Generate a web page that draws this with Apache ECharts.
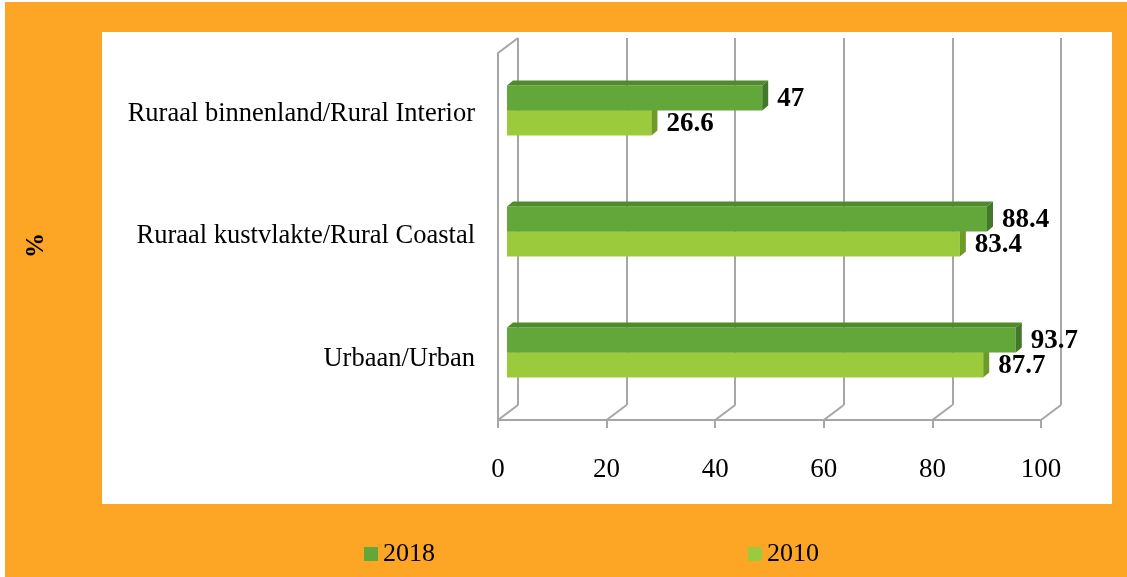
<!DOCTYPE html>
<html lang="en">

<head>
    <meta charset="UTF-8">
    <title>Rural vs urban</title>
    <script src="https://cdn.jsdelivr.net/npm/echarts/dist/echarts.min.js"></script>
    <style>
        body { margin: 0; background: #fff; }
        .frame {
            position: absolute; left: 5px; top: 2px; right: 0; bottom: 0;
            background: #FDA524;
        }
        .plot {
            position: absolute; left: 102px; top: 32px; width: 1010px; height: 472px;
            background: #fff;
        }
        #chart { position: absolute; left: 0; top: 0; width: 1127px; height: 577px; }
    </style>
</head>

<body>
    <div class="frame"></div>
    <div class="plot"></div>
    <div id="chart"></div>

    <script>
        // data (bottom to top)
        const categories = ['Urbaan/Urban', 'Ruraal kustvlakte/Rural Coastal', 'Ruraal binnenland/Rural Interior'];
        const values2018 = [93.7, 88.4, 47];
        const values2010 = [87.7, 83.4, 26.6];
        const xMin = 0, xMax = 100, xStep = 20;
        const xTicks = [0, 20, 40, 60, 80, 100];

        const FONT = '"Liberation Serif", "Times New Roman", serif';
        const GRID_COLOR = '#A6A6A6';
        // 3d depth of the walls and of the bars
        const DX = 20, DY = -15;
        const BAR_H = 25, BX = 6, BY = -5;

        function barItem(shift, colors) {
            return function (params, api) {
                const val = api.value(0);
                const cat = api.value(1);
                const a = api.coord([xMin, cat]);
                const b = api.coord([val, cat]);
                const x0 = a[0], x1 = b[0];
                const y0 = a[1] + shift, y1 = y0 + BAR_H;
                return {
                    type: 'group',
                    children: [
                        { type: 'rect', shape: { x: x0, y: y0, width: x1 - x0, height: BAR_H }, style: { fill: colors[0] } },
                        { type: 'polygon', shape: { points: [[x0, y0], [x0 + BX, y0 + BY], [x1 + BX, y0 + BY], [x1, y0]] }, style: { fill: colors[1] } },
                        { type: 'polygon', shape: { points: [[x1, y0], [x1 + BX, y0 + BY], [x1 + BX, y1 + BY], [x1, y1]] }, style: { fill: colors[2] } },
                        {
                            type: 'text', x: x1 + BX + 9, y: (y0 + y1) / 2 + 1,
                            style: { text: String(val), font: 'bold 27px ' + FONT, fill: '#000', verticalAlign: 'middle' }
                        }
                    ]
                };
            };
        }

        const chart = echarts.init(document.getElementById('chart'));
        chart.setOption({
            backgroundColor: 'transparent',
            animation: false,
            legend: {
                data: ['2018', '2010'],
                left: 359, top: 536,
                itemWidth: 14, itemHeight: 14, itemGap: 313,
                icon: 'rect',
                textStyle: { fontFamily: FONT, fontSize: 26, color: '#000' }
            },
            grid: [
                { left: 498, top: 53, width: 543, height: 367 },  // front plane
                { left: 507, top: 50, width: 543, height: 363 },  // bars
                { left: 518, top: 38, width: 543, height: 367 }   // back wall
            ],
            xAxis: [
                {
                    gridIndex: 0, type: 'value', min: xMin, max: xMax, interval: xStep,
                    axisLine: { show: true, lineStyle: { color: GRID_COLOR, width: 2 } },
                    axisTick: { show: true, length: 8, lineStyle: { color: GRID_COLOR, width: 2 } },
                    axisLabel: { fontFamily: FONT, fontSize: 27, color: '#000', margin: 36 },
                    splitLine: { show: false }
                },
                { gridIndex: 1, type: 'value', min: xMin, max: xMax, interval: xStep, show: false },
                {
                    gridIndex: 2, type: 'value', min: xMin, max: xMax, interval: xStep,
                    axisLine: { show: false }, axisTick: { show: false }, axisLabel: { show: false },
                    splitLine: { show: true, lineStyle: { color: GRID_COLOR, width: 2 } }
                }
            ],
            yAxis: [
                {
                    gridIndex: 0, type: 'category', data: categories,
                    axisLine: { show: true, lineStyle: { color: GRID_COLOR, width: 2 } },
                    axisTick: { show: false },
                    axisLabel: { fontFamily: FONT, fontSize: 26.5, color: '#000', margin: 23 },
                    name: '%', nameLocation: 'middle', nameRotate: 90, nameGap: 449,
                    nameTextStyle: { fontFamily: FONT, fontSize: 25, fontWeight: 'bold', color: '#000', padding: [0, 18, 0, 0] }
                },
                { gridIndex: 1, type: 'category', data: categories, show: false },
                { gridIndex: 2, type: 'category', data: categories, show: false }
            ],
            series: [
                {
                    // depth lines joining the front floor edge with the back wall
                    type: 'custom', xAxisIndex: 0, yAxisIndex: 0, silent: true,
                    data: xTicks.map(v => [v, 0]),
                    renderItem: function (params, api) {
                        const cs = params.coordSys;
                        const x = api.coord([api.value(0), 0])[0];
                        const bottom = cs.y + cs.height;
                        const style = { stroke: GRID_COLOR, lineWidth: 2 };
                        const kids = [{ type: 'line', shape: { x1: x, y1: bottom, x2: x + DX, y2: bottom + DY }, style: style }];
                        if (api.value(0) === xMin) {
                            kids.push({ type: 'line', shape: { x1: x, y1: cs.y, x2: x + DX, y2: cs.y + DY }, style: style });
                        }
                        return { type: 'group', children: kids };
                    }
                },
                {
                    name: '2010', type: 'custom', xAxisIndex: 1, yAxisIndex: 1, z: 2,
                    itemStyle: { color: '#9BCB3C' },
                    data: values2010.map((v, i) => [v, i]),
                    renderItem: barItem(0, ['#9BCB3C', '#88B733', '#6E9A28'])
                },
                {
                    // drawn last so it sits on top of the 2010 bar
                    name: '2018', type: 'custom', xAxisIndex: 1, yAxisIndex: 1, z: 3,
                    itemStyle: { color: '#63A63A' },
                    data: values2018.map((v, i) => [v, i]),
                    renderItem: barItem(-BAR_H, ['#63A63A', '#4F8A2C', '#43782A'])
                }
            ]
        });
    </script>
</body>

</html>
